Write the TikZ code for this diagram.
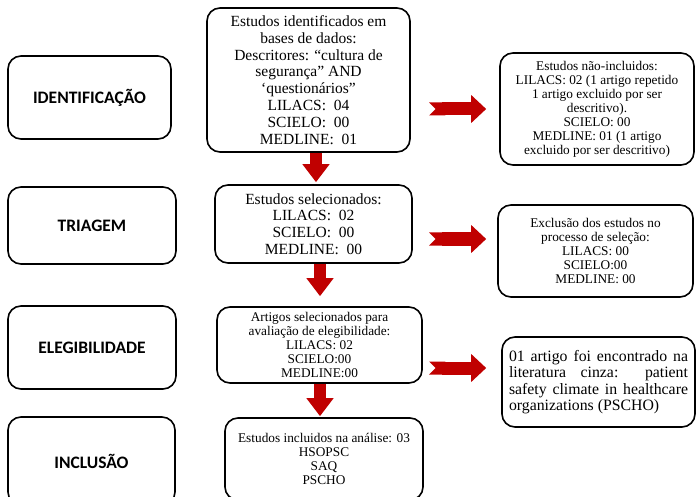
\documentclass[tikz,border=0pt]{standalone}
\usepackage{fontspec}
\setmainfont{Liberation Serif}
\newfontfamily\stagefont{Carlito}
\definecolor{arrowred}{HTML}{C00000}
\usetikzlibrary{
    arrows.meta,
    positioning,
    calc
}
\tikzstyle{stage} = [
    rectangle,
    rounded corners=13pt,
    draw=black,
    line width=1.6pt,
    text centered,
    font=\stagefont\bfseries\fontsize{17.5}{20}\selectfont
]
\tikzstyle{study} = [
    rectangle,
    rounded corners=13pt,
    draw=black,
    line width=1.6pt,
    align=center,
    inner sep=2pt,
    font=\fontsize{15.5}{16.8}\selectfont
]
\tikzstyle{smallstudy} = [
    study,
    font=\fontsize{13.3}{14}\selectfont
]
\tikzstyle{downarrow} = [
    draw=arrowred,
    line width=12pt,
    -{Triangle[length=18pt,width=26pt]}
]
\tikzstyle{sidearrow} = [
    draw=arrowred,
    line width=13pt,
    {Triangle Cap[reversed]}-{Triangle[length=15pt,width=27pt]}
]

\begin{document}
\begin{tikzpicture}[x=1pt, y=-1pt]
    \useasboundingbox (0,0) rectangle (696,497);
    \clip (0,0) rectangle (696,497);

    % Stages
    \node[stage, minimum width=163pt, minimum height=83pt] (ident) at (89.5,97.5) {IDENTIFICAÇÃO};
    \node[stage, minimum width=168pt, minimum height=77pt] (screen) at (92,225.5) {TRIAGEM};
    \node[stage, minimum width=168pt, minimum height=83pt] (elig) at (92,347.5) {ELEGIBILIDADE};
    \node[stage, minimum width=167pt, minimum height=88pt] (incl) at (91.5,461) {INCLUSÃO};

    % Main column
    \node[study, minimum width=203pt, minimum height=144pt] (found) at (308.5,80)
        {Estudos identificados em\\ bases de dados:\\ Descritores: “cultura de\\ segurança” AND\\ ‘questionários”\\ LILACS:~ 04\\ SCIELO:~ 00\\ MEDLINE:~ 01};
    \node[study, minimum width=197pt, minimum height=78pt] (selected) at (313.5,224)
        {Estudos selecionados:\\ LILACS:~ 02\\ SCIELO:~ 00\\ MEDLINE:~ 00};
    \node[smallstudy, minimum width=205pt, minimum height=76pt] (eligible) at (319.5,345)
        {Artigos selecionados para\\ avaliação de elegibilidade:\\ LILACS: 02\\ SCIELO:00\\ MEDLINE:00};
    \node[smallstudy, minimum width=198pt, minimum height=82pt] (included) at (324,459)
        {Estudos incluidos na análise: 03\\ HSOPSC\\ SAQ\\ PSCHO};

    % Side column
    \node[smallstudy, minimum width=194pt, minimum height=112pt] (excluded) at (597,109)
        {Estudos não-incluidos:\\ LILACS: 02 (1 artigo repetido\\ 1 artigo excluido por ser\\ descritivo).\\ SCIELO: 00\\ MEDLINE: 01 (1 artigo\\ excluido por ser descritivo)};
    \node[smallstudy, minimum width=195pt, minimum height=92pt] (screenout) at (595.5,251)
        {Exclusão dos estudos no\\ processo de seleção:\\ LILACS: 00\\ SCIELO:00\\ MEDLINE: 00};
    \node[study, text width=179pt, align=justify, inner sep=7pt, minimum height=90pt,
          font=\fontsize{15.8}{16.3}\selectfont] (grey) at (598.5,382)
        {\hyphenpenalty=10000\tolerance=10000 01 artigo foi encontrado na\linebreak literatura cinza: patient\linebreak safety climate in healthcare organizations (PSCHO)};

    % Arrows
    \draw[downarrow] ([xshift=7.5pt]found.south) -- ([xshift=2.5pt,yshift=2pt]selected.north);
    \draw[downarrow] ([xshift=6.5pt]selected.south) -- ([xshift=0.5pt,yshift=10pt]eligible.north);
    \draw[downarrow] ([xshift=0.5pt]eligible.south) -- ([xshift=-4pt,yshift=1pt]included.north);
    \draw[sidearrow] ([xshift=-70pt]excluded.west) -- ([xshift=-13pt]excluded.west);
    \draw[sidearrow] ([shift={(-68pt,12pt)}]screenout.west) -- ([shift={(-11pt,12pt)}]screenout.west);
    \draw[sidearrow] ([shift={(-72pt,14pt)}]grey.west) -- ([shift={(-15pt,14pt)}]grey.west);
\end{tikzpicture}
\end{document}
